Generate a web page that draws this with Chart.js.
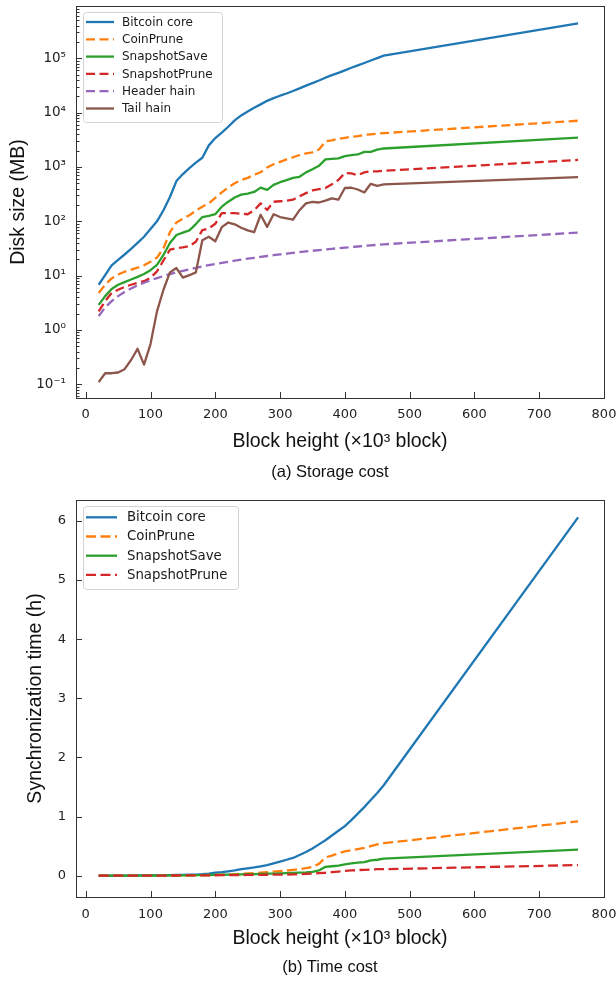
<!DOCTYPE html>
<html lang="en">
<head>
<meta charset="UTF-8">
<title>Storage cost and time cost</title>
<script src="https://cdn.jsdelivr.net/npm/chart.js"></script>
<style>
  body { margin: 0; background: #fff; }
  #page { position: relative; width: 616px; height: 981px; overflow: hidden; }
  .panel { position: absolute; left: 0; }
  #storageChart { top: 0; }
  #timeChart { top: 480px; }
  .caption {
    position: absolute; left: 130px; width: 400px; text-align: center;
    font-family: "Liberation Sans", Arial, sans-serif; font-size: 16.5px;
    line-height: 20px; color: #111;
  }
</style>
</head>
<body>
<div id="page">
  <canvas id="storageChart" class="panel" width="616" height="462"></canvas>
  <div class="caption" style="top:461px">(a) Storage cost</div>
  <canvas id="timeChart" class="panel" width="616" height="478"></canvas>
  <div class="caption" style="top:956px">(b) Time cost</div>
</div>

<script>
// block height, x10^3 blocks
const blockHeights = [20, 30, 40, 50, 60, 70, 80, 90, 100, 110, 120, 130, 140, 150, 160, 170, 180, 190, 200, 210,
  220, 230, 240, 250, 260, 270, 280, 290, 300, 310, 320, 330, 340, 350, 360, 370, 380, 390, 400, 410,
  420, 430, 440, 450, 460, 760];

// (a) disk size, MB
const bitcoinCoreSize = [6.8, 10.2, 15.5, 19.5, 24.5, 31, 40, 52, 72, 100, 160, 280, 550, 740, 950, 1200, 1480, 2500, 3400, 4300,
  5500, 7200, 8900, 10500, 12300, 14200, 16500, 18500, 20500, 22500, 25000, 28000, 31500, 35000, 39000, 44000, 49000, 54000, 60000, 67000,
  74000, 82000, 91000, 101000, 112000, 440000];
const coinPruneSize = [4.8, 6.8, 8.9, 10.5, 11.8, 12.9, 14, 15.5, 18, 21.5, 32, 63, 95, 112, 129, 158, 186, 214, 270, 340,
  420, 500, 575, 630, 720, 800, 980, 1120, 1240, 1380, 1510, 1660, 1780, 1860, 2100, 2950, 3100, 3300, 3450, 3600,
  3700, 3900, 4000, 4100, 4200, 7100];
const snapshotSaveSize = [2.9, 4.2, 5.7, 6.8, 7.6, 8.5, 9.5, 10.7, 12.6, 15.8, 24, 40, 56, 62, 68, 89, 120, 126, 135, 186,
  230, 275, 310, 324, 347, 417, 380, 468, 525, 575, 630, 660, 795, 910, 1050, 1380, 1410, 1445, 1580, 1660,
  1700, 1900, 1900, 2090, 2190, 3470];
const snapshotPruneSize = [2.2, 3.4, 4.8, 5.5, 6.2, 6.8, 7.4, 7.9, 9.1, 12, 19, 30, 32, 33, 35, 42, 69, 74, 90, 141,
  141, 141, 138, 135, 160, 214, 162, 229, 234, 240, 250, 288, 330, 370, 390, 410, 480, 575, 775, 760,
  710, 795, 830, 830, 850, 1350];
const headerChainSize = [1.8, 2.6, 3.4, 4.2, 5.0, 5.8, 6.6, 7.4, 8.2, 9.0, 9.8, 10.7, 11.5, 12.3, 13.1, 13.9, 14.8, 15.6, 16.4, 17.2,
  18.0, 18.9, 19.7, 20.5, 21.3, 22.1, 23.0, 23.8, 24.6, 25.4, 26.2, 27.0, 27.9, 28.7, 29.5, 30.3, 31.2, 32.0, 32.8, 33.6,
  34.4, 35.3, 36.1, 36.9, 37.7, 62];
const tailChainSize = [0.11, 0.16, 0.16, 0.165, 0.19, 0.28, 0.45, 0.23, 0.55, 2.2, 5.5, 11.5, 13.8, 9.2, 10.2, 11.5, 45, 52, 43, 78,
  95, 88, 76, 68, 63, 132, 79, 135, 120, 113, 107, 160, 214, 228, 222, 240, 265, 250, 410, 415,
  385, 340, 490, 450, 480, 650];

// (b) synchronization time, hours
const bitcoinCoreTime = [0.001, 0.001, 0.002, 0.002, 0.003, 0.003, 0.004, 0.005, 0.006, 0.007, 0.008, 0.01, 0.012, 0.014, 0.017, 0.02, 0.025, 0.035, 0.05, 0.06,
  0.075, 0.09, 0.11, 0.125, 0.14, 0.16, 0.18, 0.21, 0.24, 0.27, 0.3, 0.35, 0.4, 0.46, 0.53, 0.6, 0.68, 0.76, 0.84, 0.94,
  1.05, 1.16, 1.28, 1.4, 1.53, 6.06];
const coinPruneTime = [0.001, 0.001, 0.001, 0.002, 0.002, 0.002, 0.003, 0.003, 0.004, 0.004, 0.005, 0.005, 0.006, 0.006, 0.007, 0.008, 0.01, 0.012, 0.015, 0.018,
  0.022, 0.027, 0.032, 0.038, 0.045, 0.052, 0.06, 0.068, 0.077, 0.087, 0.1, 0.112, 0.128, 0.15, 0.2, 0.31, 0.34, 0.38, 0.41, 0.43,
  0.45, 0.47, 0.5, 0.53, 0.55, 0.92];
const snapshotSaveTime = [0.001, 0.001, 0.001, 0.002, 0.002, 0.002, 0.003, 0.003, 0.004, 0.004, 0.005, 0.005, 0.006, 0.007, 0.008, 0.009, 0.01, 0.012, 0.014, 0.016,
  0.018, 0.02, 0.022, 0.025, 0.028, 0.031, 0.034, 0.037, 0.04, 0.043, 0.047, 0.052, 0.057, 0.065, 0.09, 0.15, 0.16, 0.17, 0.19, 0.21,
  0.22, 0.23, 0.26, 0.27, 0.29, 0.44];
const snapshotPruneTime = [0.001, 0.001, 0.001, 0.001, 0.002, 0.002, 0.002, 0.002, 0.003, 0.003, 0.003, 0.004, 0.004, 0.005, 0.005, 0.006, 0.006, 0.007, 0.008, 0.009,
  0.01, 0.011, 0.012, 0.013, 0.014, 0.015, 0.016, 0.017, 0.018, 0.02, 0.022, 0.025, 0.03, 0.035, 0.045, 0.05, 0.06, 0.07, 0.08, 0.09,
  0.095, 0.1, 0.105, 0.11, 0.11, 0.18];

const storageLabels = ['Bitcoin core', 'CoinPrune', 'SnapshotSave', 'SnapshotPrune', 'Header hain', 'Tail hain'];
const timeLabels = ['Bitcoin core', 'CoinPrune', 'SnapshotSave', 'SnapshotPrune'];

const xTickValues = [0, 100, 200, 300, 400, 500, 600, 700, 800];
const sizeTickValues = [0.1, 1, 10, 100, 1000, 10000, 100000];
const sizeTickLabels = ['10\u207B\u00B9', '10\u2070', '10\u00B9', '10\u00B2', '10\u00B3', '10\u2074', '10\u2075'];
const timeTickValues = [0, 1, 2, 3, 4, 5, 6];

// matplotlib tab10 colours, line style per series
const seriesColors = ['#1f77b4', '#ff7f0e', '#2ca02c', '#d62728', '#9467bd', '#8c564b'];
const seriesDashed = [false, true, false, true, true, false];

Chart.defaults.font.family = '"DejaVu Sans", sans-serif';
Chart.defaults.color = '#222';

const titleFont = { family: '"Liberation Sans", Arial, sans-serif', size: 19.5 };

// inward ticks + full frame, like the matplotlib axes
const frameTicks = {
  id: 'frameTicks',
  afterDatasetsDraw(chart) {
    const { ctx, chartArea: a, scales: { x, y } } = chart;
    ctx.save();
    ctx.strokeStyle = '#333';
    ctx.lineWidth = 1;
    ctx.beginPath();
    x.ticks.forEach(t => {
      const px = Math.round(x.getPixelForValue(t.value)) + 0.5;
      if (px < a.left + 1 || px > a.right - 1) return;
      ctx.moveTo(px, a.bottom);
      ctx.lineTo(px, a.bottom - 6);
    });
    y.ticks.forEach(t => {
      const py = Math.round(y.getPixelForValue(t.value)) + 0.5;
      ctx.moveTo(a.left, py);
      ctx.lineTo(a.left + 6, py);
    });
    if (y.type === 'logarithmic') {
      for (let k = -2; k <= 6; k++) {
        for (let m = 2; m <= 9; m++) {
          const v = m * Math.pow(10, k);
          if (v < y.min || v > y.max) continue;
          const py = Math.round(y.getPixelForValue(v)) + 0.5;
          ctx.moveTo(a.left, py);
          ctx.lineTo(a.left + 3.5, py);
        }
      }
    }
    ctx.stroke();
    ctx.strokeRect(Math.round(a.left) + 0.5, Math.round(a.top) + 0.5, Math.round(a.width), Math.round(a.height));
    ctx.restore();
  }
};

// legend box drawn inside the plot, upper left
const innerLegend = {
  id: 'innerLegend',
  afterDraw(chart, args, o) {
    const { ctx } = chart;
    const sets = chart.data.datasets;
    ctx.save();
    ctx.fillStyle = 'rgba(255,255,255,0.85)';
    ctx.strokeStyle = '#d4d4d4';
    ctx.lineWidth = 1;
    ctx.beginPath();
    ctx.roundRect(o.box[0] + 0.5, o.box[1] + 0.5, o.box[2], o.box[3], 3);
    ctx.fill();
    ctx.stroke();
    ctx.font = o.fontSize + 'px "DejaVu Sans", sans-serif';
    ctx.textBaseline = 'middle';
    ctx.textAlign = 'left';
    sets.forEach((ds, i) => {
      const cy = o.firstRow + i * o.rowGap;
      ctx.strokeStyle = ds.borderColor;
      ctx.lineWidth = ds.borderWidth;
      ctx.setLineDash(ds.borderDash || []);
      ctx.beginPath();
      ctx.moveTo(o.lineX[0], cy);
      ctx.lineTo(o.lineX[1], cy);
      ctx.stroke();
      ctx.setLineDash([]);
      ctx.fillStyle = '#1a1a1a';
      ctx.fillText(ds.label, o.textX, cy + 0.5);
    });
    ctx.restore();
  }
};

function makeDatasets(labels, seriesList, dash) {
  return seriesList.map((vals, i) => ({
    label: labels[i],
    data: blockHeights.map((h, j) => ({ x: h, y: vals[j] })),
    borderColor: seriesColors[i],
    backgroundColor: seriesColors[i],
    borderWidth: 2.3,
    borderDash: seriesDashed[i] ? dash : [],
    borderJoinStyle: 'round',
    pointRadius: 0,
    tension: 0,
    fill: false,
    order: seriesList.length - i
  }));
}

function xScale(height, tickPad, titlePad) {
  return {
    type: 'linear', min: -15, max: 800,
    afterBuildTicks: s => { s.ticks = xTickValues.map(v => ({ value: v })); },
    afterFit: s => { s.height = height; s.paddingLeft = 0; s.paddingRight = 0; },
    grid: { display: false, drawTicks: false },
    border: { display: false },
    ticks: { padding: tickPad, autoSkip: false, maxRotation: 0, font: { size: 13 } },
    title: { display: true, text: 'Block height (\u00D710\u00B3 block)', font: titleFont, color: '#111',
      padding: { top: 0, bottom: titlePad } }
  };
}

new Chart(document.getElementById('storageChart'), {
  type: 'line',
  data: {
    datasets: makeDatasets(storageLabels,
      [bitcoinCoreSize, coinPruneSize, snapshotSaveSize, snapshotPruneSize, headerChainSize, tailChainSize], [9, 4.5])
  },
  options: {
    responsive: false,
    animation: false,
    layout: { padding: { top: 6, right: 12, left: 0, bottom: 0 } },
    plugins: {
      legend: { display: false },
      tooltip: { enabled: false },
      innerLegend: { box: [83, 12, 139, 110], firstRow: 22, rowGap: 17.3, lineX: [86, 114], textX: 122, fontSize: 12 }
    },
    scales: {
      x: xScale(64, 8.5, 9),
      y: {
        type: 'logarithmic', min: 0.056, max: 918000,
        afterBuildTicks: s => { s.ticks = sizeTickValues.map(v => ({ value: v })); },
        afterFit: s => { s.width = 76; s.paddingTop = 0; s.paddingBottom = 0; },
        grid: { display: false, drawTicks: false },
        border: { display: false },
        ticks: { padding: 10, autoSkip: false, font: { size: 13.5 }, callback: (v, i) => sizeTickLabels[i] },
        title: { display: true, text: 'Disk size (MB)', font: titleFont, color: '#111', padding: { top: 7, bottom: 0 } }
      }
    }
  },
  plugins: [frameTicks, innerLegend]
});

new Chart(document.getElementById('timeChart'), {
  type: 'line',
  data: {
    datasets: makeDatasets(timeLabels,
      [bitcoinCoreTime, coinPruneTime, snapshotSaveTime, snapshotPruneTime], [10, 4.5])
  },
  options: {
    responsive: false,
    animation: false,
    layout: { padding: { top: 20, right: 12, left: 0, bottom: 0 } },
    plugins: {
      legend: { display: false },
      tooltip: { enabled: false },
      innerLegend: { box: [83, 26, 155, 83], firstRow: 37.3, rowGap: 19.2, lineX: [86, 117], textX: 127, fontSize: 13.3 }
    },
    scales: {
      x: xScale(61, 10, 7.5),
      y: {
        type: 'linear', min: -0.36, max: 6.355,
        afterBuildTicks: s => { s.ticks = timeTickValues.map(v => ({ value: v })); },
        afterFit: s => { s.width = 76; s.paddingTop = 0; s.paddingBottom = 0; },
        grid: { display: false, drawTicks: false },
        border: { display: false },
        ticks: { padding: 10, autoSkip: false, font: { size: 13 } },
        title: { display: true, text: 'Synchronization time (h)', font: titleFont, color: '#111', padding: { top: 24, bottom: 0 } }
      }
    }
  },
  plugins: [frameTicks, innerLegend]
});
</script>
</body>
</html>
